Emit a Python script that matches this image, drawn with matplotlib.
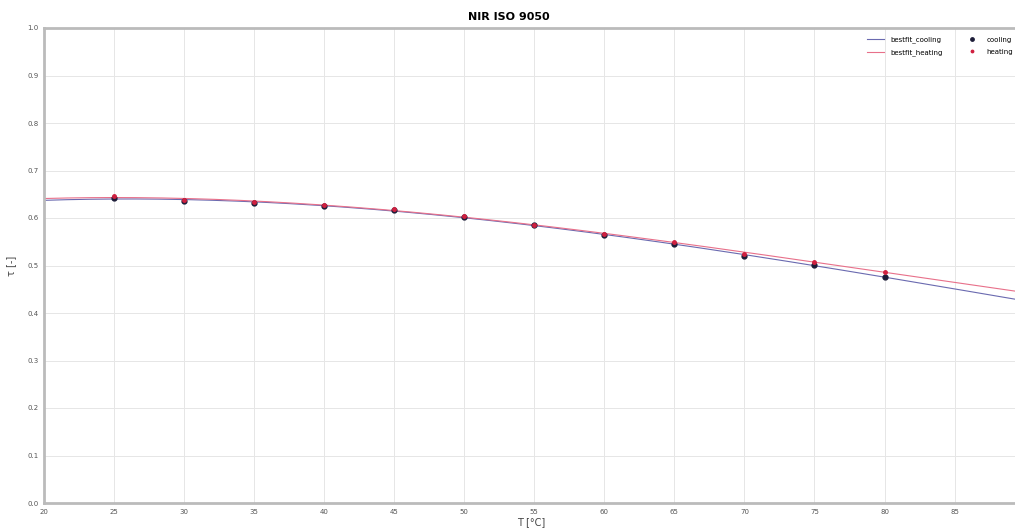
import numpy as np
import matplotlib.pyplot as plt

# Measured temperatures and NIR transmittance values
temps = np.array([25, 30, 35, 40, 45, 50, 55, 60, 65, 70, 75, 80])
cooling = np.array([0.643, 0.635, 0.632, 0.626, 0.617, 0.602, 0.585, 0.564, 0.545, 0.520, 0.501, 0.476])
heating = np.array([0.646, 0.638, 0.633, 0.627, 0.618, 0.604, 0.586, 0.567, 0.549, 0.525, 0.507, 0.487])

x_ticks = np.arange(20, 90, 5)
y_ticks = np.round(np.arange(0, 1.01, 0.1), 1)

# Best fit polynomials through the measurements
fit_c = np.polyfit(temps, cooling, 3)
fit_h = np.polyfit(temps, heating, 3)
t_fit = np.linspace(20, 90, 300)

fig = plt.figure(figsize=(10.15, 5.29), dpi=100)
ax = fig.add_axes([44 / 1015, 26 / 529, 975 / 1015, 475 / 529])

ax.plot(t_fit, np.polyval(fit_c, t_fit), color='#6a6ab0', lw=0.8, label='bestfit_cooling')
ax.plot(t_fit, np.polyval(fit_h, t_fit), color='#e8708a', lw=0.8, label='bestfit_heating')
ax.plot(temps, cooling, 'o', color='#1c1c38', ms=3.5, label='cooling')
ax.plot(temps, heating, 'o', color='#d02040', ms=2.5, label='heating')

ax.set_xlim(20, 89.6)
ax.set_ylim(0, 1.0)
ax.set_xticks(x_ticks)
ax.set_yticks(y_ticks)
ax.tick_params(labelsize=5, colors='#555555', length=0, pad=4)
ax.grid(True, color='#e6e6e6', lw=0.7)
for side in ['left', 'bottom', 'top']:
    ax.spines[side].set_color('#bbbbbb')
    ax.spines[side].set_linewidth(2)
ax.spines['right'].set_visible(False)

ax.set_title('NIR ISO 9050', fontsize=8, fontweight='bold', x=0.477, pad=6)
ax.set_xlabel('T [°C]', fontsize=7, color='#444444', labelpad=2)
ax.set_ylabel('τ [-]', fontsize=7, color='#444444', labelpad=8)
ax.legend(loc='upper right', ncol=2, frameon=False, fontsize=5, handlelength=2.5,
          columnspacing=3, labelspacing=0.9, markerscale=0.7, bbox_to_anchor=(1.0, 0.995))

plt.savefig('out.png', dpi=100)
